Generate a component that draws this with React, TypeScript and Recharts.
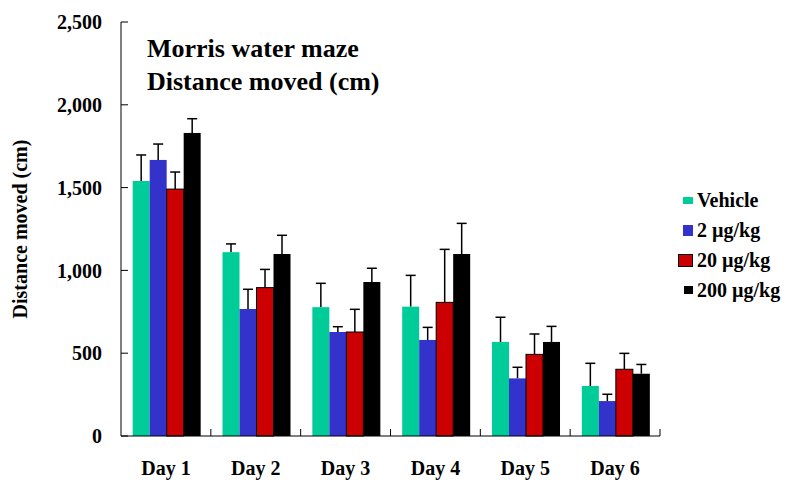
import { BarChart, Bar, XAxis, YAxis, Legend } from 'recharts';

const days = ['Day 1', 'Day 2', 'Day 3', 'Day 4', 'Day 5', 'Day 6'];
const vehicle = [1540, 1110, 778, 781, 568, 302];
const vehicleSem = [157, 50, 144, 189, 149, 137];
const dose2 = [1667, 767, 628, 580, 348, 211];
const dose2Sem = [96, 119, 32, 76, 67, 41];
const dose20 = [1491, 896, 628, 807, 493, 403];
const dose20Sem = [103, 110, 137, 320, 123, 96];
const dose200 = [1830, 1099, 930, 1099, 568, 376];
const dose200Sem = [86, 113, 83, 185, 94, 56];
const yTicks = [0, 500, 1000, 1500, 2000, 2500];

const data = days.map((day, i) => ({
  day,
  vehicle: vehicle[i],
  vehicleSem: vehicleSem[i],
  dose2: dose2[i],
  dose2Sem: dose2Sem[i],
  dose20: dose20[i],
  dose20Sem: dose20Sem[i],
  dose200: dose200[i],
  dose200Sem: dose200Sem[i],
}));

const FONT = '"Liberation Serif", "Times New Roman", serif';

const series = [
  { key: 'vehicle', name: 'Vehicle', color: '#00CC99', stroke: 'none', mw: 10, mh: 7 },
  { key: 'dose2', name: '2 µg/kg', color: '#3333CC', stroke: 'none', mw: 10, mh: 11 },
  { key: 'dose20', name: '20 µg/kg', color: '#CC0000', stroke: '#000', mw: 15, mh: 13 },
  { key: 'dose200', name: '200 µg/kg', color: '#000000', stroke: 'none', mw: 9, mh: 8 },
];

// bar + one-sided (upper) error bar, scaled from the bar's own pixel height
const makeShape = (valKey: string, errKey: string) => (props: any) => {
  const { x, y, width, height, fill, payload } = props;
  const v = payload[valKey];
  const err = payload[errKey];
  const pxPerUnit = v ? height / v : 0;
  const top = y - err * pxPerUnit;
  const cx = x + width / 2;
  return (
    <g>
      <line x1={cx} x2={cx} y1={y} y2={top} stroke="#000" strokeWidth={1.5} />
      <line x1={cx - 5} x2={cx + 5} y1={top} y2={top} stroke="#000" strokeWidth={1.5} />
      <rect
        x={x}
        y={y}
        width={width}
        height={height}
        fill={fill}
        stroke={valKey === 'dose20' ? '#000' : 'none'}
        strokeWidth={1}
      />
    </g>
  );
};

// category label plus a small inward tick at the right edge of the category band
const DayTick = (props: any) => {
  const { x, y, payload, width, visibleTicksCount } = props;
  const step = width / visibleTicksCount;
  const bx = x + step / 2;
  return (
    <g>
      <text
        x={x}
        y={y + 39}
        textAnchor="middle"
        fontFamily={FONT}
        fontWeight="bold"
        fontSize={20}
        fill="#000"
      >
        {payload.value}
      </text>
      <line x1={bx} x2={bx} y1={y} y2={y - 7} stroke="#000" strokeWidth={1} />
    </g>
  );
};

const LegendBox = () => (
  <div style={{ fontFamily: FONT, fontWeight: 'bold', fontSize: 20, color: '#000' }}>
    {series.map((s) => (
      <div key={s.key} style={{ display: 'flex', alignItems: 'center', height: 30 }}>
        <div style={{ width: 17, display: 'flex', justifyContent: 'flex-end', marginRight: 4 }}>
          <div
            style={{
              width: s.mw,
              height: s.mh,
              background: s.color,
              border: s.stroke === 'none' ? 'none' : '1px solid #000',
              boxSizing: 'border-box',
            }}
          />
        </div>
        <span>{s.name}</span>
      </div>
    ))}
  </div>
);

const App = () => {
  return (
    <div style={{ position: 'absolute', left: 0, top: 0, width: 800, height: 494, background: '#fff' }}>
      <BarChart
        width={800}
        height={494}
        data={data}
        margin={{ top: 22, right: 16, left: 0, bottom: 0 }}
        barCategoryGap="13%"
        barGap={0}
      >
        <XAxis
          dataKey="day"
          height={58}
          tickSize={0}
          tickMargin={0}
          tickLine={false}
          axisLine={{ stroke: '#000', strokeWidth: 1 }}
          tick={<DayTick />}
          interval={0}
        />
        <YAxis
          width={121}
          domain={[0, 2500]}
          ticks={yTicks}
          tickSize={-7}
          tickMargin={26}
          axisLine={{ stroke: '#000', strokeWidth: 1 }}
          tickLine={{ stroke: '#000', strokeWidth: 1 }}
          tickFormatter={(v: number) => v.toLocaleString('en-US')}
          tick={{ fontFamily: FONT, fontWeight: 'bold', fontSize: 20, fill: '#000' }}
          label={{
            value: 'Distance moved (cm)',
            angle: -90,
            position: 'insideLeft',
            offset: 20,
            style: { textAnchor: 'middle', fontFamily: FONT, fontWeight: 'bold', fontSize: 20, fill: '#000' },
          }}
        />
        <Legend
          content={<LegendBox />}
          layout="vertical"
          verticalAlign="top"
          align="right"
          wrapperStyle={{ left: 676, top: 185, width: 124 }}
        />
        {series.map((s) => (
          <Bar
            key={s.key}
            dataKey={s.key}
            name={s.name}
            fill={s.color}
            shape={makeShape(s.key, s.key + 'Sem')}
            isAnimationActive={false}
          />
        ))}
      </BarChart>
      <div
        style={{
          position: 'absolute',
          left: 147,
          top: 32,
          fontFamily: FONT,
          fontWeight: 'bold',
          fontSize: 26,
          lineHeight: '33px',
          color: '#000',
          whiteSpace: 'nowrap',
        }}
      >
        <div>Morris water maze</div>
        <div>Distance moved (cm)</div>
      </div>
    </div>
  );
};

export default App;
